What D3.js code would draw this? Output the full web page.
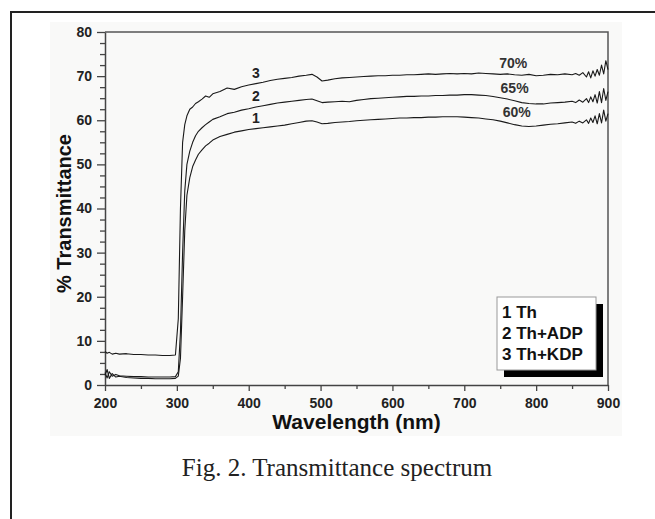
<!DOCTYPE html>
<html lang="en">
<head>
<meta charset="UTF-8">
<title>Transmittance spectrum</title>
<script src="https://d3js.org/d3.v7.min.js"></script>
<style>
    body { margin: 0; background: #fff; }
    svg { display: block; }
    .tick text { font-family: Arial, "Liberation Sans", sans-serif; font-weight: bold; font-size: 14px; fill: #222; }
    .axis path, .axis line { stroke: #444; }
</style>
</head>
<body>
<svg width="655" height="519"></svg>
<script>
// wavelength grid (nm), shared by the three curves
const wavelengths = [200, 203, 206, 210, 215, 220, 230, 240, 250, 260, 270, 280, 290, 298,
    302, 305, 308, 311, 314, 318, 322, 326, 330, 335, 340, 345, 350, 360, 370, 380, 390, 400,
    410, 420, 430, 440, 450, 460, 470, 480, 488, 495, 502, 510, 520, 530, 540, 550, 560, 570,
    580, 590, 600, 610, 620, 630, 640, 650, 660, 670, 680, 690, 700, 710, 720, 730, 740, 750,
    760, 770, 780, 790, 800, 810, 820, 830, 840, 850, 855, 860, 865, 870, 873, 876, 879, 882,
    885, 888, 891, 894, 897, 900];

// 1 Th
const th = [2.2, 3.5, 1.5, 2.6, 1.8, 2.0, 1.7, 1.6, 1.5, 1.5, 1.4, 1.4, 1.4, 1.5,
    2.0, 6.0, 20, 35, 43, 47, 49.5, 51, 52.3, 53.3, 54.2, 54.8, 55.5, 56.3, 56.8, 57.3, 57.6, 57.9,
    58.1, 58.3, 58.5, 58.7, 58.9, 59.2, 59.5, 59.8, 59.9, 59.6, 59.2, 59.3, 59.5, 59.6, 59.7, 59.9, 60.0, 60.1,
    60.2, 60.3, 60.4, 60.5, 60.5, 60.6, 60.6, 60.7, 60.7, 60.8, 60.8, 60.8, 60.7, 60.6, 60.5, 60.3, 60.1, 59.8,
    59.4, 59.0, 58.7, 58.6, 58.7, 58.9, 59.1, 59.2, 59.4, 59.6, 59.3, 59.8, 59.4, 60.1, 59.3, 60.5, 59.5, 61.0,
    59.2, 61.5, 59.4, 62.3, 59.8, 61.5];

// 2 Th+ADP
const thAdp = [2.8, 1.6, 3.0, 2.0, 2.4, 2.1, 2.0, 1.9, 1.9, 1.8, 1.8, 1.8, 1.8, 1.9,
    3.0, 12, 30, 44, 50, 53, 55, 56.5, 57.5, 58.3, 59, 59.6, 60.2, 60.8, 61.5, 61.8, 62.3, 62.6,
    63.0, 63.3, 63.6, 63.9, 64.1, 64.3, 64.5, 64.7, 64.8, 64.4, 64.0, 64.1, 64.2, 64.3, 64.2, 64.5, 64.7, 64.9,
    65.0, 65.1, 65.2, 65.3, 65.4, 65.4, 65.5, 65.5, 65.6, 65.6, 65.7, 65.7, 65.8, 65.8, 65.7, 65.6, 65.4, 65.1,
    64.8, 64.4, 64.0, 63.8, 63.7, 63.7, 63.9, 64.0, 64.1, 64.3, 64.0, 64.6, 64.1, 64.9, 64.0, 65.3, 64.2, 65.8,
    63.9, 66.5, 64.0, 67.2, 64.5, 66.5];

// 3 Th+KDP
const thKdp = [7.6, 7.2, 7.4, 7.0, 7.2, 7.0, 7.1, 6.9, 6.9, 6.8, 6.8, 6.7, 6.7, 6.8,
    15, 40, 55, 59, 61, 62.5, 63, 63.8, 64.2, 64.8, 65.5, 65.2, 66, 66.5, 67.3, 67.0, 67.6, 68.0,
    68.3, 68.6, 69.0, 69.3, 69.5, 69.7, 70.0, 70.2, 70.4, 69.8, 68.9, 69.1, 69.4, 69.6, 69.7, 69.8, 69.9, 70.0,
    70.1, 70.1, 70.2, 70.2, 70.3, 70.3, 70.4, 70.5, 70.4, 70.5, 70.6, 70.5, 70.6, 70.5, 70.7, 70.6, 70.5, 70.4,
    70.5, 70.3, 70.2, 70.4, 70.1, 70.2, 70.4, 70.3, 70.5, 70.3, 70.6, 70.2, 70.8, 69.8, 71.0, 69.6, 71.2, 70.0,
    71.5, 70.2, 72.5, 70.5, 73.5, 71.5];

const xTicks = [200, 300, 400, 500, 600, 700, 800, 900];
const xMinor = [250, 350, 450, 550, 650, 750, 850];
const yTicks = [0, 10, 20, 30, 40, 50, 60, 70, 80];
const yMinor = [2.5, 5, 7.5, 12.5, 15, 17.5, 22.5, 25, 27.5, 32.5, 35, 37.5, 42.5, 45, 47.5,
    52.5, 55, 57.5, 62.5, 65, 67.5, 72.5, 75, 77.5];

const legendLabels = ["1 Th", "2 Th+ADP", "3 Th+KDP"];
const curveNumbers = ["1", "2", "3"];
const curveNumberAt = [410, 410, 410];    // wavelength where the number sits
const percentLabels = ["60%", "65%", "70%"];
const percentAt = [773, 770, 768];

const svg = d3.select("svg");

// page frame and light panel behind the plot
svg.append("rect").attr("x", 11).attr("y", 12).attr("width", 700).attr("height", 600)
    .attr("fill", "#fff").attr("stroke", "#222").attr("stroke-width", 2);
svg.append("rect").attr("x", 50).attr("y", 22).attr("width", 572).attr("height", 414)
    .attr("fill", "#f9f9f8");

const m = { left: 105, right: 608, top: 32, bottom: 385 };
const x = d3.scaleLinear().domain([200, 900]).range([m.left, m.right]);
const y = d3.scaleLinear().domain([0, 80]).range([m.bottom, m.top]);

// plot box (top and right edges)
svg.append("path")
    .attr("d", `M${m.left},${m.top}H${m.right}V${m.bottom}`)
    .attr("fill", "none").attr("stroke", "#555").attr("stroke-width", 1.5);

// minor ticks
svg.append("g").attr("class", "axis")
    .attr("transform", `translate(0,${m.bottom})`)
    .call(d3.axisBottom(x).tickValues(xMinor).tickSize(4).tickFormat(""))
    .call(g => g.select(".domain").remove());
svg.append("g").attr("class", "axis")
    .attr("transform", `translate(${m.left},0)`)
    .call(d3.axisLeft(y).tickValues(yMinor).tickSize(5).tickFormat(""))
    .call(g => g.select(".domain").remove());

// major axes
svg.append("g").attr("class", "axis")
    .attr("transform", `translate(0,${m.bottom})`)
    .call(d3.axisBottom(x).tickValues(xTicks).tickSize(6).tickSizeOuter(0).tickPadding(7))
    .call(g => g.select(".domain").attr("stroke-width", 1.5));
svg.append("g").attr("class", "axis")
    .attr("transform", `translate(${m.left},0)`)
    .call(d3.axisLeft(y).tickValues(yTicks).tickSize(8).tickSizeOuter(0).tickPadding(5))
    .call(g => g.select(".domain").attr("stroke-width", 1.5));
svg.selectAll(".axis line").attr("stroke-width", 1.3);

// curves
const line = d3.line().x((d, i) => x(wavelengths[i])).y(d => y(d));
const series = [th, thAdp, thKdp];
series.forEach(s => {
    svg.append("path").datum(s)
        .attr("d", line)
        .attr("fill", "none")
        .attr("stroke", "#1a1a1a")
        .attr("stroke-width", 1.1)
        .attr("stroke-linejoin", "round");
});

// curve numbers and percent labels
const valueAt = (s, w) => s[d3.bisectLeft(wavelengths, w)];
curveNumbers.forEach((t, i) => {
    svg.append("text")
        .attr("x", x(curveNumberAt[i]))
        .attr("y", y(valueAt(series[i], curveNumberAt[i])) - 6)
        .attr("text-anchor", "middle")
        .attr("font-family", "Arial, 'Liberation Sans', sans-serif")
        .attr("font-weight", "bold").attr("font-size", 14).attr("fill", "#222")
        .text(t);
});
percentLabels.forEach((t, i) => {
    svg.append("text")
        .attr("x", x(percentAt[i]))
        .attr("y", y(valueAt(series[i], percentAt[i])) - [9, 8, 7][i])
        .attr("text-anchor", "middle")
        .attr("font-family", "Arial, 'Liberation Sans', sans-serif")
        .attr("font-weight", "bold").attr("font-size", 14).attr("fill", "#333")
        .text(t);
});

// legend with drop shadow
const lg = svg.append("g").attr("transform", "translate(497,297)");
lg.append("rect").attr("x", 7).attr("y", 7).attr("width", 99).attr("height", 73).attr("fill", "#000");
lg.append("rect").attr("x", 0).attr("y", 0).attr("width", 99).attr("height", 73)
    .attr("fill", "#fff").attr("stroke", "#999").attr("stroke-width", 1);
lg.selectAll("text.leg").data(legendLabels).join("text")
    .attr("class", "leg")
    .attr("x", 5)
    .attr("y", (d, i) => 21 + i * 21)
    .attr("font-family", "Arial, 'Liberation Sans', sans-serif")
    .attr("font-weight", "bold").attr("font-size", 17).attr("fill", "#111")
    .text(d => d);

// axis titles
svg.append("text")
    .attr("x", (m.left + m.right) / 2).attr("y", 429)
    .attr("text-anchor", "middle")
    .attr("font-family", "Arial, 'Liberation Sans', sans-serif")
    .attr("font-weight", "bold").attr("font-size", 21).attr("fill", "#111")
    .text("Wavelength (nm)");
svg.append("text")
    .attr("transform", `translate(71,${(m.top + m.bottom) / 2 + 5}) rotate(-90)`)
    .attr("text-anchor", "middle")
    .attr("font-family", "Arial, 'Liberation Sans', sans-serif")
    .attr("font-weight", "bold").attr("font-size", 20).attr("fill", "#111")
    .text("% Transmittance");

// figure caption
svg.append("text")
    .attr("x", 337).attr("y", 476)
    .attr("text-anchor", "middle")
    .attr("font-family", "'Liberation Serif', 'Times New Roman', serif")
    .attr("font-size", 25).attr("fill", "#222")
    .text("Fig. 2. Transmittance spectrum");
</script>
</body>
</html>
